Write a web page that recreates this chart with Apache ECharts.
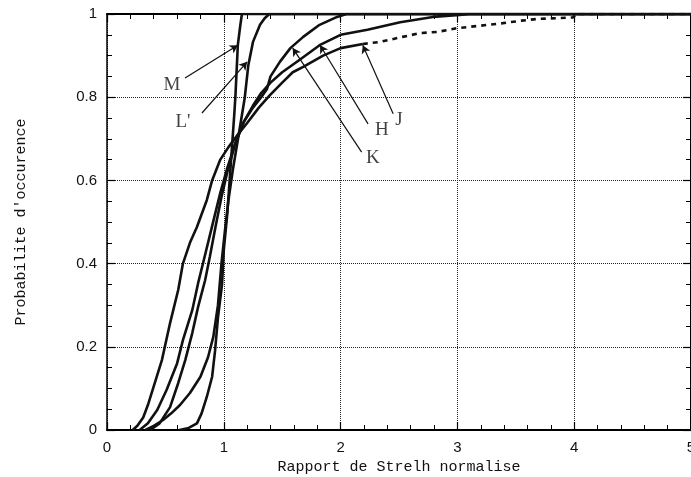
<!DOCTYPE html>
<html>
<head>
<meta charset="utf-8">
<script src="https://cdn.jsdelivr.net/npm/echarts@6/dist/echarts.min.js"></script>
<style>
html,body{margin:0;padding:0;background:#fff;overflow:hidden;}
#chart{width:691px;height:477px;}
</style>
</head>
<body>
<div id="chart"></div>
<script>
// Curve data [Strehl ratio, cumulative probability]
const curveM = [[0.62,0],[0.7,0.005],[0.77,0.016],[0.81,0.04],[0.855,0.08],[0.9,0.128],[0.925,0.19],[0.95,0.27],[0.985,0.35],[1.0,0.433],[1.03,0.52],[1.05,0.6],[1.07,0.68],[1.09,0.76],[1.1,0.805],[1.12,0.925],[1.14,0.97],[1.155,1.0],[5,1]];
const curveL = [[0.33,0],[0.4,0.01],[0.48,0.024],[0.55,0.04],[0.625,0.06],[0.71,0.089],[0.8,0.128],[0.865,0.175],[0.91,0.224],[0.95,0.3],[0.98,0.4],[1.01,0.48],[1.04,0.553],[1.08,0.63],[1.13,0.714],[1.18,0.8],[1.21,0.877],[1.25,0.933],[1.31,0.974],[1.35,0.99],[1.39,1],[5,1]];
const curveH = [[0.28,0],[0.35,0.016],[0.43,0.048],[0.51,0.096],[0.6,0.16],[0.65,0.216],[0.73,0.288],[0.78,0.353],[0.83,0.41],[0.9,0.49],[0.97,0.57],[1.03,0.63],[1.1,0.69],[1.17,0.74],[1.25,0.78],[1.32,0.81],[1.4,0.835],[1.5,0.86],[1.65,0.89],[1.82,0.925],[2.0,0.95],[2.23,0.962],[2.51,0.98],[2.79,0.993],[3.02,0.998],[3.1,1],[5,1]];
const curveK = [[0.37,0],[0.45,0.016],[0.54,0.055],[0.61,0.113],[0.67,0.168],[0.73,0.233],[0.78,0.296],[0.84,0.36],[0.88,0.416],[0.93,0.49],[0.98,0.56],[1.03,0.62],[1.1,0.69],[1.17,0.74],[1.25,0.775],[1.32,0.8],[1.37,0.82],[1.4,0.85],[1.48,0.885],[1.57,0.918],[1.68,0.945],[1.82,0.974],[1.97,0.993],[2.05,1],[5,1]];
const curveJ = [[0.22,0],[0.26,0.01],[0.31,0.03],[0.35,0.06],[0.39,0.096],[0.47,0.168],[0.54,0.257],[0.61,0.337],[0.65,0.4],[0.71,0.45],[0.77,0.488],[0.855,0.553],[0.9,0.6],[0.97,0.65],[1.04,0.68],[1.12,0.71],[1.2,0.738],[1.3,0.775],[1.395,0.805],[1.5,0.835],[1.59,0.86],[1.68,0.873],[1.85,0.9],[2.0,0.918],[2.19,0.928]];
const curveJTail = [[2.19,0.928],[2.34,0.933],[2.53,0.945],[2.68,0.954],[2.83,0.957],[3.0,0.966],[3.2,0.972],[3.39,0.978],[3.55,0.984],[3.68,0.988],[3.85,0.99],[3.99,0.992],[4.02,1.0],[5,1]];

// Annotations
const labelNames = ['M', "L'", 'H', 'J', 'K'];
const labelPos = [[0.556,0.829],[0.65,0.74],[2.354,0.721],[2.5,0.745],[2.277,0.654]];
const arrowFrom = [[0.668,0.846],[0.813,0.762],[2.235,0.736],[2.45,0.76],[2.18,0.668]];
const arrowTo = [[1.12,0.925],[1.2,0.885],[1.824,0.925],[2.19,0.925],[1.59,0.918]];

const xTicks = {min:0, max:5, interval:1};
const yTicks = {min:0, max:1, interval:0.2};

const chart = echarts.init(document.getElementById('chart'), null, {renderer:'canvas', width:691, height:477});
const axisCommon = {
  axisLine:{show:true, onZero:false, lineStyle:{color:'#000', width:2}},
  axisTick:{show:true, inside:true, length:8, lineStyle:{color:'#000', width:1.2}}
};
const lineStyleC = {color:'#111', width:2.6};
function curve(name, data, extra){
  return Object.assign({
    name, type:'line', data, showSymbol:false, symbol:'none',
    lineStyle:Object.assign({}, lineStyleC), silent:true, z:3
  }, extra||{});
}
chart.setOption({
  animation:false,
  backgroundColor:'#fff',
  grid:{left:107, top:14, right:0, bottom:47, containLabel:false, outerBoundsMode:'none'},
  xAxis:[
    Object.assign({type:'value', position:'bottom', min:xTicks.min, max:xTicks.max, interval:xTicks.interval,
      name:'Rapport de Strelh normalise', nameLocation:'middle', nameGap:29,
      nameTextStyle:{fontFamily:'Liberation Mono', fontSize:15, color:'#111'},
      axisLabel:{fontFamily:'Liberation Sans', fontSize:15, color:'#111', margin:10, hideOverlap:false},
      splitLine:{show:true, lineStyle:{color:'#222', width:1, type:'dotted'}},
      minorTick:{show:true, splitNumber:5, length:5, lineStyle:{color:'#000', width:1}}
    }, axisCommon),
    Object.assign({type:'value', position:'top', min:xTicks.min, max:xTicks.max, interval:xTicks.interval,
      axisLabel:{show:false}, splitLine:{show:false},
      minorTick:{show:true, splitNumber:5, length:5, lineStyle:{color:'#000', width:1}}
    }, axisCommon)
  ],
  yAxis:[
    Object.assign({type:'value', position:'left', min:yTicks.min, max:yTicks.max, interval:yTicks.interval,
      name:"Probabilite d'occurence", nameLocation:'middle', nameGap:78, nameRotate:90,
      nameTextStyle:{fontFamily:'Liberation Mono', fontSize:15, color:'#111'},
      axisLabel:{fontFamily:'Liberation Sans', fontSize:15, color:'#111', margin:10},
      splitLine:{show:true, lineStyle:{color:'#222', width:1, type:'dotted'}},
      minorTick:{show:true, splitNumber:4, length:5, lineStyle:{color:'#000', width:1}}
    }, {axisLine:{show:true, onZero:false, lineStyle:{color:'#000', width:1.5}}, axisTick:axisCommon.axisTick}),
    Object.assign({type:'value', position:'right', min:yTicks.min, max:yTicks.max, interval:yTicks.interval,
      axisLabel:{show:false}, splitLine:{show:false},
      minorTick:{show:true, splitNumber:4, length:5, lineStyle:{color:'#000', width:1}}
    }, axisCommon)
  ],
  series:[
    curve('M', curveM),
    curve("L'", curveL),
    curve('H', curveH),
    curve('K', curveK),
    curve('J', curveJ),
    curve('J tail', curveJTail, {lineStyle:{color:'#111', width:2.6, type:[5,5]}}),
    {
      name:'labels', type:'scatter', symbolSize:0, silent:true, z:5,
      data: labelNames.map((n,i)=>({name:n, value:labelPos[i]})),
      label:{show:true, position:'inside', formatter:p=>p.name, fontFamily:'Liberation Serif', fontSize:19, color:'#111'},
      markLine:{
        silent:true, symbol:['none','arrow'], symbolSize:[7,8], animation:false,
        lineStyle:{color:'#111', width:1.2, type:'solid'},
        label:{show:false},
        data: arrowFrom.map((f,i)=>[{coord:f},{coord:arrowTo[i]}])
      }
    }
  ]
});
</script>
</body>
</html>
